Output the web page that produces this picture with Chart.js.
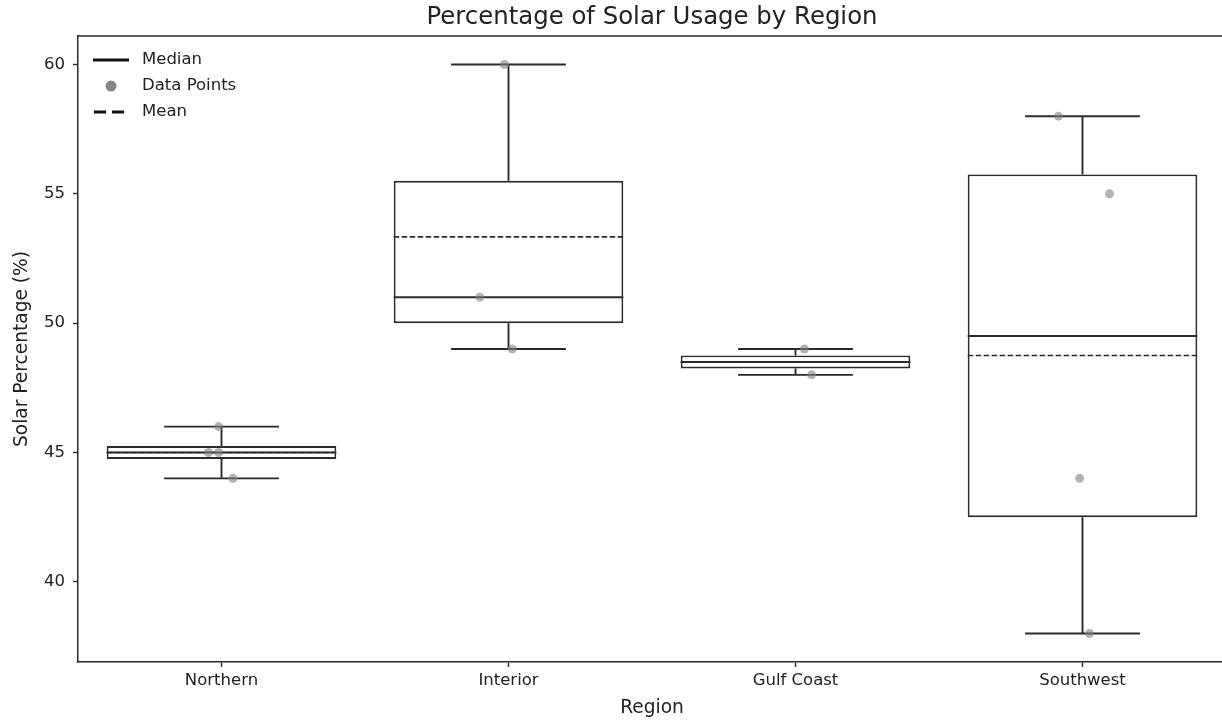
<!DOCTYPE html>
<html>
<head>
<meta charset="utf-8">
<title>Percentage of Solar Usage by Region</title>
<script src="https://cdn.jsdelivr.net/npm/chart.js@4.4.0/dist/chart.umd.min.js"></script>
<style>
  html, body { margin: 0; padding: 0; background: #fff; overflow: hidden; }
  #wrap { width: 1240px; height: 723px; }
</style>
</head>
<body>
<div id="wrap"><canvas id="chart" width="1240" height="723"></canvas></div>
<script>
// Regions and observed solar usage (%) per region
const regions = ['Northern', 'Interior', 'Gulf Coast', 'Southwest'];
const northern = [46, 45, 45, 44];
const interior = [60, 51, 49];
const gulfCoast = [49, 48];
const southwest = [58, 55, 44, 38];
const regionValues = [northern, interior, gulfCoast, southwest];

// Horizontal jitter of each observation (in category units)
const northernJitter = [-0.01, -0.045, -0.01, 0.04];
const interiorJitter = [-0.014, -0.10, 0.013];
const gulfCoastJitter = [0.031, 0.056];
const southwestJitter = [-0.084, 0.094, -0.01, 0.024];
const regionJitter = [northernJitter, interiorJitter, gulfCoastJitter, southwestJitter];

// Axis ticks
const yTicks = [40, 45, 50, 55, 60];
const yRange = [36.9, 61.1];

const INK = '#2b2b2b';
const TEXT = '#222';
const FONT = "'DejaVu Sans', sans-serif";
const BOX_HALF = 0.4;
const CAP_HALF = 0.2;
const LW = 1.9;

// Linear-interpolated quantile (same convention as numpy's default)
function quantile(arr, q) {
  const s = [...arr].sort((a, b) => a - b);
  const pos = (s.length - 1) * q;
  const lo = Math.floor(pos), hi = Math.ceil(pos);
  return s[lo] + (s[hi] - s[lo]) * (pos - lo);
}
function boxStats(arr) {
  const q1 = quantile(arr, 0.25), med = quantile(arr, 0.5), q3 = quantile(arr, 0.75);
  const iqr = q3 - q1;
  const inside = arr.filter(v => v >= q1 - 1.5 * iqr && v <= q3 + 1.5 * iqr);
  return {
    q1, med, q3,
    lo: Math.min(...inside),
    hi: Math.max(...inside),
    mean: arr.reduce((a, b) => a + b, 0) / arr.length
  };
}
const stats = regionValues.map(boxStats);

const GAP = (x) => ({ x, y: null });

const boxData = stats.map((s, i) => ({ x: i, y: [s.q1, s.q3] }));
const medianData = stats.flatMap((s, i) => [
  { x: i - BOX_HALF, y: s.med }, { x: i + BOX_HALF, y: s.med }, GAP(i)
]);
const meanData = stats.flatMap((s, i) => [
  { x: i - BOX_HALF, y: s.mean }, { x: i + BOX_HALF, y: s.mean }, GAP(i)
]);
const whiskerData = stats.flatMap((s, i) => [
  { x: i, y: s.q3 }, { x: i, y: s.hi }, GAP(i),
  { x: i, y: s.q1 }, { x: i, y: s.lo }, GAP(i)
]);
const capData = stats.flatMap((s, i) => [
  { x: i - CAP_HALF, y: s.hi }, { x: i + CAP_HALF, y: s.hi }, GAP(i),
  { x: i - CAP_HALF, y: s.lo }, { x: i + CAP_HALF, y: s.lo }, GAP(i)
]);
const pointData = regionValues.flatMap((vals, i) =>
  vals.map((v, k) => ({ x: i + regionJitter[i][k], y: v }))
);

const segLine = (data, extra) => Object.assign({
  type: 'line',
  data,
  borderColor: INK,
  borderWidth: LW,
  borderCapStyle: 'butt',
  pointRadius: 0,
  pointHoverRadius: 0,
  fill: false,
  spanGaps: false,
  tension: 0
}, extra || {});

// Title, top/right spines and the in-axes legend
const framePlugin = {
  id: 'frame',
  afterDraw(chart) {
    const { ctx, chartArea: a } = chart;
    ctx.save();
    // spines
    ctx.strokeStyle = INK;
    ctx.lineWidth = 1.5;
    ctx.beginPath();
    ctx.moveTo(a.left, a.top);
    ctx.lineTo(a.right, a.top);
    ctx.lineTo(a.right, a.bottom);
    ctx.stroke();

    // title
    ctx.fillStyle = TEXT;
    ctx.font = '24.4px ' + FONT;
    ctx.textAlign = 'center';
    ctx.textBaseline = 'middle';
    ctx.fillText('Percentage of Solar Usage by Region', (a.left + a.right) / 2, 18);

    // legend
    const x0 = a.left + 15, x1 = a.left + 51, tx = a.left + 64;
    const rows = [a.top + 24, a.top + 50, a.top + 76];
    ctx.font = '16.5px ' + FONT;
    ctx.textAlign = 'left';
    ctx.lineWidth = 2.8;
    ctx.strokeStyle = '#111';
    ctx.setLineDash([]);
    ctx.beginPath(); ctx.moveTo(x0, rows[0]); ctx.lineTo(x1, rows[0]); ctx.stroke();
    ctx.fillStyle = '#888';
    ctx.beginPath(); ctx.arc((x0 + x1) / 2, rows[1], 5.5, 0, Math.PI * 2); ctx.fill();
    ctx.setLineDash([12, 6]);
    ctx.beginPath(); ctx.moveTo(x0 + 1, rows[2]); ctx.lineTo(x1 - 4, rows[2]); ctx.stroke();
    ctx.setLineDash([]);
    ctx.fillStyle = TEXT;
    ctx.fillText('Median', tx, rows[0]);
    ctx.fillText('Data Points', tx, rows[1]);
    ctx.fillText('Mean', tx, rows[2]);
    ctx.restore();
  }
};

new Chart(document.getElementById('chart'), {
  type: 'bar',
  data: {
    datasets: [
      {
        type: 'bar',
        data: boxData,
        backgroundColor: '#ffffff',
        borderColor: INK,
        borderWidth: LW,
        borderSkipped: false,
        categoryPercentage: 1,
        barPercentage: 2 * BOX_HALF,
        order: 10
      },
      segLine(whiskerData, { order: 6 }),
      segLine(capData, { order: 5 }),
      segLine(medianData, { order: 4 }),
      segLine(meanData, { order: 3, borderWidth: 1.6, borderDash: [5.5, 2.5] }),
      {
        type: 'scatter',
        data: pointData,
        backgroundColor: 'rgba(128,128,128,0.6)',
        borderWidth: 0,
        pointRadius: 4.5,
        pointHoverRadius: 4.5,
        order: 1
      }
    ]
  },
  options: {
    responsive: false,
    animation: false,
    events: [],
    layout: { padding: { left: 0, right: 14, top: 36, bottom: 0 } },
    plugins: {
      legend: { display: false },
      title: { display: false },
      tooltip: { enabled: false }
    },
    scales: {
      x: {
        type: 'linear',
        min: -0.5,
        max: 3.5,
        offset: false,
        afterBuildTicks: (scale) => { scale.ticks = regions.map((_, i) => ({ value: i })); },
        afterFit: (scale) => { scale.height = 61; },
        ticks: {
          callback: (v) => regions[v] || '',
          color: TEXT,
          font: { family: FONT, size: 16.5 },
          padding: 4,
          maxRotation: 0,
          autoSkip: false
        },
        grid: { display: true, offset: false, drawOnChartArea: false, drawTicks: true, tickLength: 5, tickColor: INK, tickWidth: 1.4 },
        border: { display: true, color: INK, width: 1.5 },
        title: {
          display: true,
          text: 'Region',
          color: TEXT,
          font: { family: FONT, size: 18.6 },
          padding: { top: 0, bottom: 4 }
        }
      },
      y: {
        type: 'linear',
        min: yRange[0],
        max: yRange[1],
        afterBuildTicks: (scale) => { scale.ticks = yTicks.map(v => ({ value: v })); },
        afterFit: (scale) => { scale.width = 78; },
        ticks: {
          color: TEXT,
          font: { family: FONT, size: 16.5 },
          padding: 8
        },
        grid: { display: true, offset: false, drawOnChartArea: false, drawTicks: true, tickLength: 5, tickColor: INK, tickWidth: 1.4 },
        border: { display: true, color: INK, width: 1.5 },
        title: {
          display: true,
          text: 'Solar Percentage (%)',
          color: TEXT,
          font: { family: FONT, size: 18.6 },
          padding: { top: 11, bottom: 0 }
        }
      }
    }
  },
  plugins: [framePlugin]
});
</script>
</body>
</html>
